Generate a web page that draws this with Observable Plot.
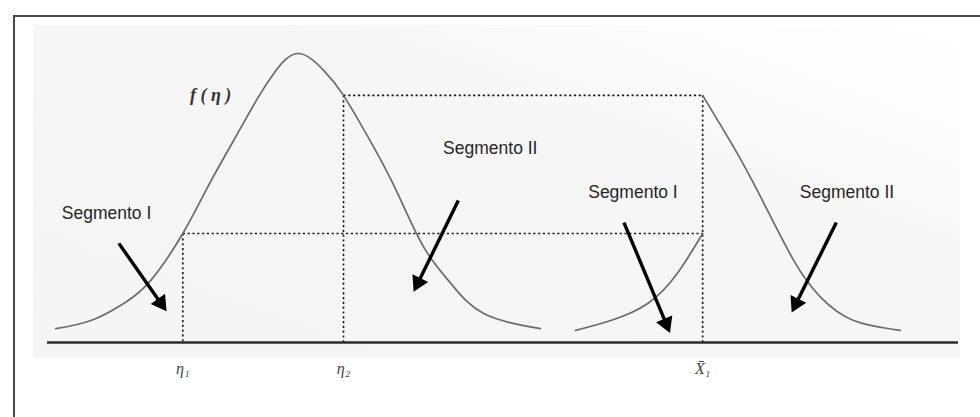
<!DOCTYPE html>
<html>
<head>
<meta charset="utf-8">
<script src="https://cdn.jsdelivr.net/npm/d3@7"></script>
<script src="https://cdn.jsdelivr.net/npm/@observablehq/plot@0.6"></script>
<style>
  html, body { margin: 0; padding: 0; background: #fff; }
  #wrap { position: relative; width: 980px; height: 417px; overflow: hidden; }
  #panel { position: absolute; left: 33px; top: 25px; width: 927px; height: 333px;
           background: linear-gradient(200deg, #ffffff 0%, #fcfcfc 16%, #f6f6f6 38%, #f5f5f5 100%); }
  #border { position: absolute; left: 13px; top: 15px; width: 1000px; height: 500px;
            border-top: 2px solid #4a4a4a; border-left: 2px solid #4a4a4a; }
  #chart { position: absolute; left: 0; top: 0; }
</style>
</head>
<body>
<div id="wrap">
  <div id="panel"></div>
  <div id="border"></div>
  <div id="chart"></div>
</div>
<script>
// Density f(η): left bell curve (η in σ units, height relative to the peak)
const bellEta = [-2.95, -2.52, -2.12, -1.79, -1.40, -1.10, -0.78, -0.49, -0.29, 0.00, 0.32, 0.56, 0.93, 1.22, 1.54, 1.87, 2.27, 2.96];
const bellF   = [0.048, 0.076, 0.135, 0.215, 0.377, 0.536, 0.699, 0.844, 0.931, 1.000, 0.941, 0.855, 0.675, 0.516, 0.329, 0.204, 0.100, 0.048];

// Split density around X̄₁: lower tail (Segmento I) and upper branch (Segmento II)
const tailEta  = [3.39, 3.82, 4.27, 4.63, 4.94];
const tailF    = [0.042, 0.076, 0.135, 0.239, 0.377];
const upperEta = [4.94, 5.32, 5.65, 6.05, 6.38, 6.78, 7.35];
const upperF   = [0.855, 0.675, 0.502, 0.284, 0.156, 0.076, 0.042];

// Marked points on the axis
const tickValues = [-1.40, 0.56, 4.94];
const tickLabels = ["η\u2081", "η\u2082", "X\u0304\u2081"];
const fEta1 = 0.377;   // f(η₁)
const fEta2 = 0.855;   // f(η₂)

// Segment labels and their arrows (tail → tip)
const segLabels = ["Segmento I", "Segmento II", "Segmento I", "Segmento II"];
const segLabelX = [-2.33, 2.35, 4.09, 6.70];
const segLabelY = [0.446, 0.671, 0.519, 0.519];
const arrowX1 = [-2.18, 1.96, 3.98, 6.57];
const arrowY1 = [0.343, 0.491, 0.415, 0.415];
const arrowX2 = [-1.63, 1.44, 4.52, 6.05];
const arrowY2 = [0.121, 0.190, 0.048, 0.118];

const W = 980, H = 417;
const margin = {left: 47, right: 22, top: 53, bottom: 75};
const xDomain = [-3.05, 8.06];
const yDomain = [0, 1];

const curves = [
  ...bellEta.map((x, i) => ({x, y: bellF[i], part: "bell"})),
  ...tailEta.map((x, i) => ({x, y: tailF[i], part: "tail"})),
  ...upperEta.map((x, i) => ({x, y: upperF[i], part: "upper"}))
];

const xbar = tickValues[2];
const guides = [
  {x1: tickValues[0], y1: fEta1, x2: tickValues[0], y2: 0},
  {x1: tickValues[1], y1: fEta2, x2: tickValues[1], y2: 0},
  {x1: xbar, y1: fEta2, x2: xbar, y2: 0},
  {x1: tickValues[1], y1: fEta2, x2: xbar, y2: fEta2},
  {x1: tickValues[0], y1: fEta1, x2: xbar, y2: fEta1}
];

// Pixel-space scales, used to orient the filled arrowheads
const sx = Plot.scale({x: {domain: xDomain, range: [margin.left, W - margin.right]}});
const sy = Plot.scale({y: {domain: yDomain, range: [H - margin.bottom, margin.top]}});
const arrows = segLabels.map((_, i) => {
  const px1 = sx.apply(arrowX1[i]), py1 = sy.apply(arrowY1[i]);
  const px2 = sx.apply(arrowX2[i]), py2 = sy.apply(arrowY2[i]);
  const dx = px2 - px1, dy = py2 - py1, len = Math.hypot(dx, dy);
  const back = 5.5; // centre of the head triangle sits behind the tip
  const hx = px2 - dx / len * back, hy = py2 - dy / len * back;
  const sback = 9;  // shaft stops inside the head
  return {
    x1: arrowX1[i], y1: arrowY1[i],
    x2: sx.invert(px2 - dx / len * sback), y2: sy.invert(py2 - dy / len * sback),
    hx: sx.invert(hx), hy: sy.invert(hy),
    rot: Math.atan2(dx, -dy) * 180 / Math.PI
  };
});

const labels = segLabels.map((t, i) => ({t, x: segLabelX[i], y: segLabelY[i]}));

const chart = Plot.plot({
  width: W, height: H,
  marginLeft: margin.left, marginRight: margin.right,
  marginTop: margin.top, marginBottom: margin.bottom,
  x: {domain: xDomain},
  y: {domain: yDomain, axis: null},
  style: {background: "transparent", overflow: "visible"},
  marks: [
    Plot.link(guides, {x1: "x1", y1: "y1", x2: "x2", y2: "y2",
      stroke: "#1a1a1a", strokeWidth: 1.6, strokeDasharray: "2.2,2.6"}),
    Plot.line(curves, {x: "x", y: "y", z: "part", curve: "natural",
      stroke: "#6b6b6b", strokeWidth: 1.7}),
    Plot.ruleY([0], {stroke: "#2b2b2b", strokeWidth: 2.6}),
    Plot.axisX({ticks: tickValues, tickFormat: (d, i) => tickLabels[i], tickSize: 0, tickPadding: 20,
      fontSize: 16, fontStyle: "italic", fontFamily: "Liberation Serif", fill: "#444"}),
    Plot.link(arrows, {x1: "x1", y1: "y1", x2: "x2", y2: "y2", stroke: "#000", strokeWidth: 3.4}),
    Plot.dot(arrows, {x: "hx", y: "hy", symbol: "triangle", r: 6.5, rotate: "rot",
      fill: "#000", stroke: "none"}),
    Plot.text(labels, {x: "x", y: "y", text: "t", fontSize: 17.5,
      fontFamily: "Liberation Sans", fill: "#262626"}),
    Plot.text(["f ( η )"], {x: -1.06, y: fEta2, text: d => d, fontSize: 18,
      fontFamily: "Liberation Serif", fontStyle: "italic", fontWeight: "bold", fill: "#333"})
  ]
});
document.getElementById("chart").appendChild(chart);
</script>
</body>
</html>
